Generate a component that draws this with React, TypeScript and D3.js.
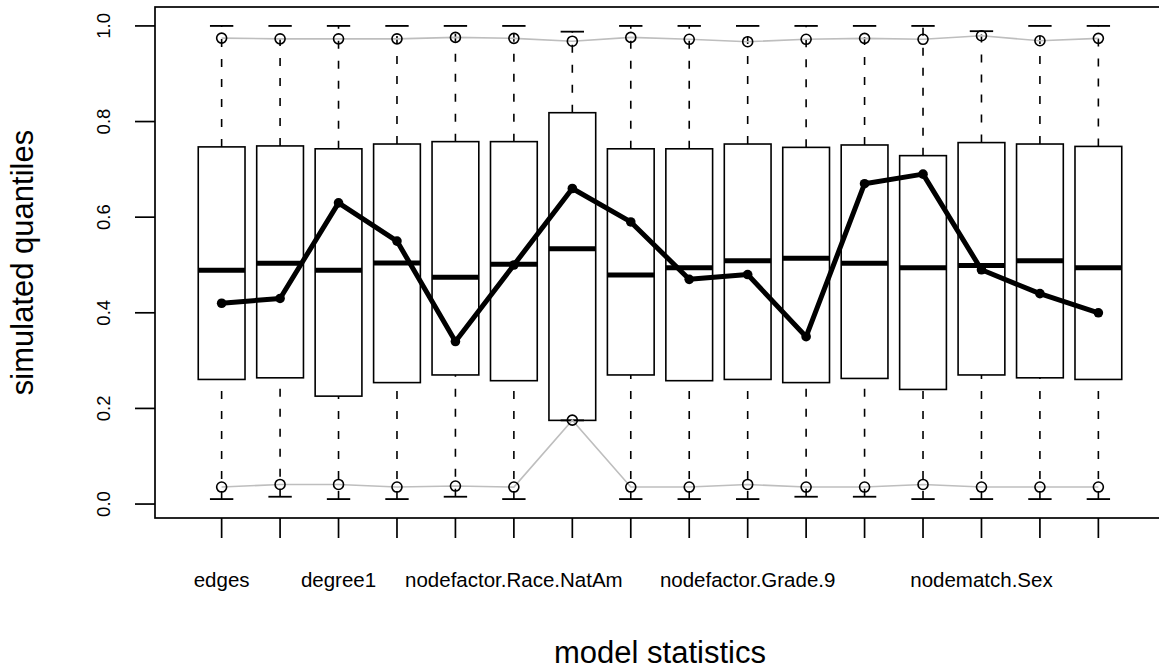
import { useEffect, useRef } from 'react'
import * as d3 from 'd3'

// simulated quantile summaries per model statistic
const statLabels = [
  'edges', '', 'degree1', '', '', 'nodefactor.Race.NatAm', '', '',
  '', 'nodefactor.Grade.9', '', '', '', 'nodematch.Sex', '', '',
]
const whiskerLow = [0.0104, 0.0153, 0.0104, 0.0104, 0.0153, 0.0104, 0.175, 0.0104, 0.0104, 0.0104, 0.0153, 0.0153, 0.0104, 0.0104, 0.0104, 0.0104]
const q1 = [0.2606, 0.264, 0.2257, 0.254, 0.27, 0.258, 0.175, 0.27, 0.258, 0.2606, 0.254, 0.2627, 0.2397, 0.27, 0.264, 0.2606]
const medians = [0.489, 0.5037, 0.489, 0.504, 0.4744, 0.5016, 0.534, 0.479, 0.494, 0.509, 0.514, 0.5037, 0.494, 0.4988, 0.509, 0.494]
const q3 = [0.747, 0.749, 0.743, 0.753, 0.758, 0.758, 0.8185, 0.743, 0.743, 0.753, 0.746, 0.751, 0.7287, 0.756, 0.753, 0.748]
const whiskerHigh = [1, 1, 1, 1, 1, 1, 0.988, 1, 1, 1, 1, 1, 1, 0.989, 1, 1]
const lowerBand = [0.0355, 0.041, 0.041, 0.0355, 0.0376, 0.0355, 0.1755, 0.0355, 0.0355, 0.041, 0.0355, 0.0355, 0.041, 0.0355, 0.0355, 0.0355]
const upperBand = [0.9745, 0.973, 0.973, 0.973, 0.976, 0.974, 0.968, 0.976, 0.972, 0.967, 0.972, 0.974, 0.972, 0.9795, 0.969, 0.974]
const observed = [0.42, 0.43, 0.63, 0.55, 0.34, 0.5, 0.66, 0.59, 0.47, 0.48, 0.35, 0.67, 0.69, 0.49, 0.44, 0.4]
const yTicks = [0, 0.2, 0.4, 0.6, 0.8, 1.0]

const WIDTH = 1159
const HEIGHT = 669
const PLOT = { left: 155, right: 1165, top: 7, bottom: 518 }
const FONT = '"Liberation Sans", Arial, Helvetica, sans-serif'

export default function App() {
  const svgRef = useRef<SVGSVGElement>(null)

  useEffect(() => {
    if (!svgRef.current) return
    const svg = d3.select(svgRef.current)
    svg.selectAll('*').remove()

    const n = medians.length
    const idx = d3.range(n)

    // R style 4% padding around xlim c(0.5, n + 0.5) and the data range
    const xPad = n * 0.04
    const x = d3
      .scaleLinear()
      .domain([0.5 - xPad, n + 0.5 + xPad])
      .range([PLOT.left, PLOT.right])
    const lo = d3.min(whiskerLow) ?? 0
    const hi = d3.max(whiskerHigh) ?? 1
    const yPad = (hi - lo) * 0.04
    const y = d3
      .scaleLinear()
      .domain([lo - yPad, hi + yPad])
      .range([PLOT.bottom, PLOT.top])

    const unit = x(1) - x(0)
    const boxW = unit * 0.8
    const capW = boxW * 0.5

    const g = svg.append('g')

    // whiskers
    g.selectAll('line.wlo')
      .data(idx)
      .join('line')
      .attr('x1', (i) => x(i + 1))
      .attr('x2', (i) => x(i + 1))
      .attr('y1', (i) => y(whiskerLow[i]))
      .attr('y2', (i) => y(q1[i]))
      .attr('stroke', '#000')
      .attr('stroke-width', 1.6)
      .attr('stroke-dasharray', '8 12')
    g.selectAll('line.whi')
      .data(idx)
      .join('line')
      .attr('x1', (i) => x(i + 1))
      .attr('x2', (i) => x(i + 1))
      .attr('y1', (i) => y(q3[i]))
      .attr('y2', (i) => y(whiskerHigh[i]))
      .attr('stroke', '#000')
      .attr('stroke-width', 1.6)
      .attr('stroke-dasharray', '8 12')

    // staples
    const staple = (vals: number[]) =>
      g.selectAll(null)
        .data(idx)
        .join('line')
        .attr('x1', (i) => x(i + 1) - capW / 2)
        .attr('x2', (i) => x(i + 1) + capW / 2)
        .attr('y1', (i) => y(vals[i]))
        .attr('y2', (i) => y(vals[i]))
        .attr('stroke', '#000')
        .attr('stroke-width', 1.8)
    staple(whiskerLow)
    staple(whiskerHigh)

    // boxes
    g.selectAll('rect.box')
      .data(idx)
      .join('rect')
      .attr('x', (i) => x(i + 1) - boxW / 2)
      .attr('width', boxW)
      .attr('y', (i) => y(q3[i]))
      .attr('height', (i) => y(q1[i]) - y(q3[i]))
      .attr('fill', 'none')
      .attr('stroke', '#000')
      .attr('stroke-width', 1.6)

    // medians
    g.selectAll('line.med')
      .data(idx)
      .join('line')
      .attr('x1', (i) => x(i + 1) - boxW / 2)
      .attr('x2', (i) => x(i + 1) + boxW / 2)
      .attr('y1', (i) => y(medians[i]))
      .attr('y2', (i) => y(medians[i]))
      .attr('stroke', '#000')
      .attr('stroke-width', 5)

    // gray quantile bands with open circles
    const band = d3
      .line<number>()
      .x((_, i) => x(i + 1))
      .y((v) => y(v))
    for (const vals of [upperBand, lowerBand]) {
      g.append('path')
        .attr('d', band(vals))
        .attr('fill', 'none')
        .attr('stroke', '#bebebe')
        .attr('stroke-width', 1.6)
      g.selectAll(null)
        .data(vals)
        .join('circle')
        .attr('cx', (_, i) => x(i + 1))
        .attr('cy', (v) => y(v))
        .attr('r', 5)
        .attr('fill', 'none')
        .attr('stroke', '#000')
        .attr('stroke-width', 1.6)
    }

    // observed line
    g.append('path')
      .attr('d', band(observed))
      .attr('fill', 'none')
      .attr('stroke', '#000')
      .attr('stroke-width', 5)
      .attr('stroke-linejoin', 'round')
    g.selectAll(null)
      .data(observed)
      .join('circle')
      .attr('cx', (_, i) => x(i + 1))
      .attr('cy', (v) => y(v))
      .attr('r', 4.8)
      .attr('fill', '#000')

    // frame
    svg.append('rect')
      .attr('x', PLOT.left)
      .attr('y', PLOT.top)
      .attr('width', PLOT.right - PLOT.left)
      .attr('height', PLOT.bottom - PLOT.top)
      .attr('fill', 'none')
      .attr('stroke', '#000')
      .attr('stroke-width', 1.7)

    // y axis
    svg.selectAll('line.ytick')
      .data(yTicks)
      .join('line')
      .attr('x1', PLOT.left - 20)
      .attr('x2', PLOT.left)
      .attr('y1', (v) => y(v))
      .attr('y2', (v) => y(v))
      .attr('stroke', '#000')
      .attr('stroke-width', 1.7)
    svg.selectAll('text.ylab')
      .data(yTicks)
      .join('text')
      .attr('transform', (v) => `translate(110,${y(v)}) rotate(-90)`)
      .attr('text-anchor', 'middle')
      .attr('font-family', FONT)
      .attr('font-size', 18.5)
      .text((v) => d3.format('.1f')(v))

    // x axis
    svg.selectAll('line.xtick')
      .data(idx)
      .join('line')
      .attr('x1', (i) => x(i + 1))
      .attr('x2', (i) => x(i + 1))
      .attr('y1', PLOT.bottom)
      .attr('y2', PLOT.bottom + 20)
      .attr('stroke', '#000')
      .attr('stroke-width', 1.7)
    svg.selectAll('text.xlab')
      .data(idx.filter((i) => statLabels[i] !== ''))
      .join('text')
      .attr('x', (i) => x(i + 1))
      .attr('y', 587)
      .attr('text-anchor', 'middle')
      .attr('font-family', FONT)
      .attr('font-size', 20.5)
      .text((i) => statLabels[i])

    // axis titles
    svg.append('text')
      .attr('x', (PLOT.left + 1159 + (PLOT.right - 1159)) / 2 - 0)
      .attr('y', 663)
      .attr('text-anchor', 'middle')
      .attr('font-family', FONT)
      .attr('font-size', 31)
      .text('model statistics')
    svg.append('text')
      .attr('transform', `translate(33,${(PLOT.top + PLOT.bottom) / 2}) rotate(-90)`)
      .attr('text-anchor', 'middle')
      .attr('font-family', FONT)
      .attr('font-size', 31)
      .text('simulated quantiles')
  }, [])

  return (
    <svg
      ref={svgRef}
      width={WIDTH}
      height={HEIGHT}
      style={{ position: 'absolute', left: 0, top: 0, background: '#fff', display: 'block' }}
    />
  )
}
